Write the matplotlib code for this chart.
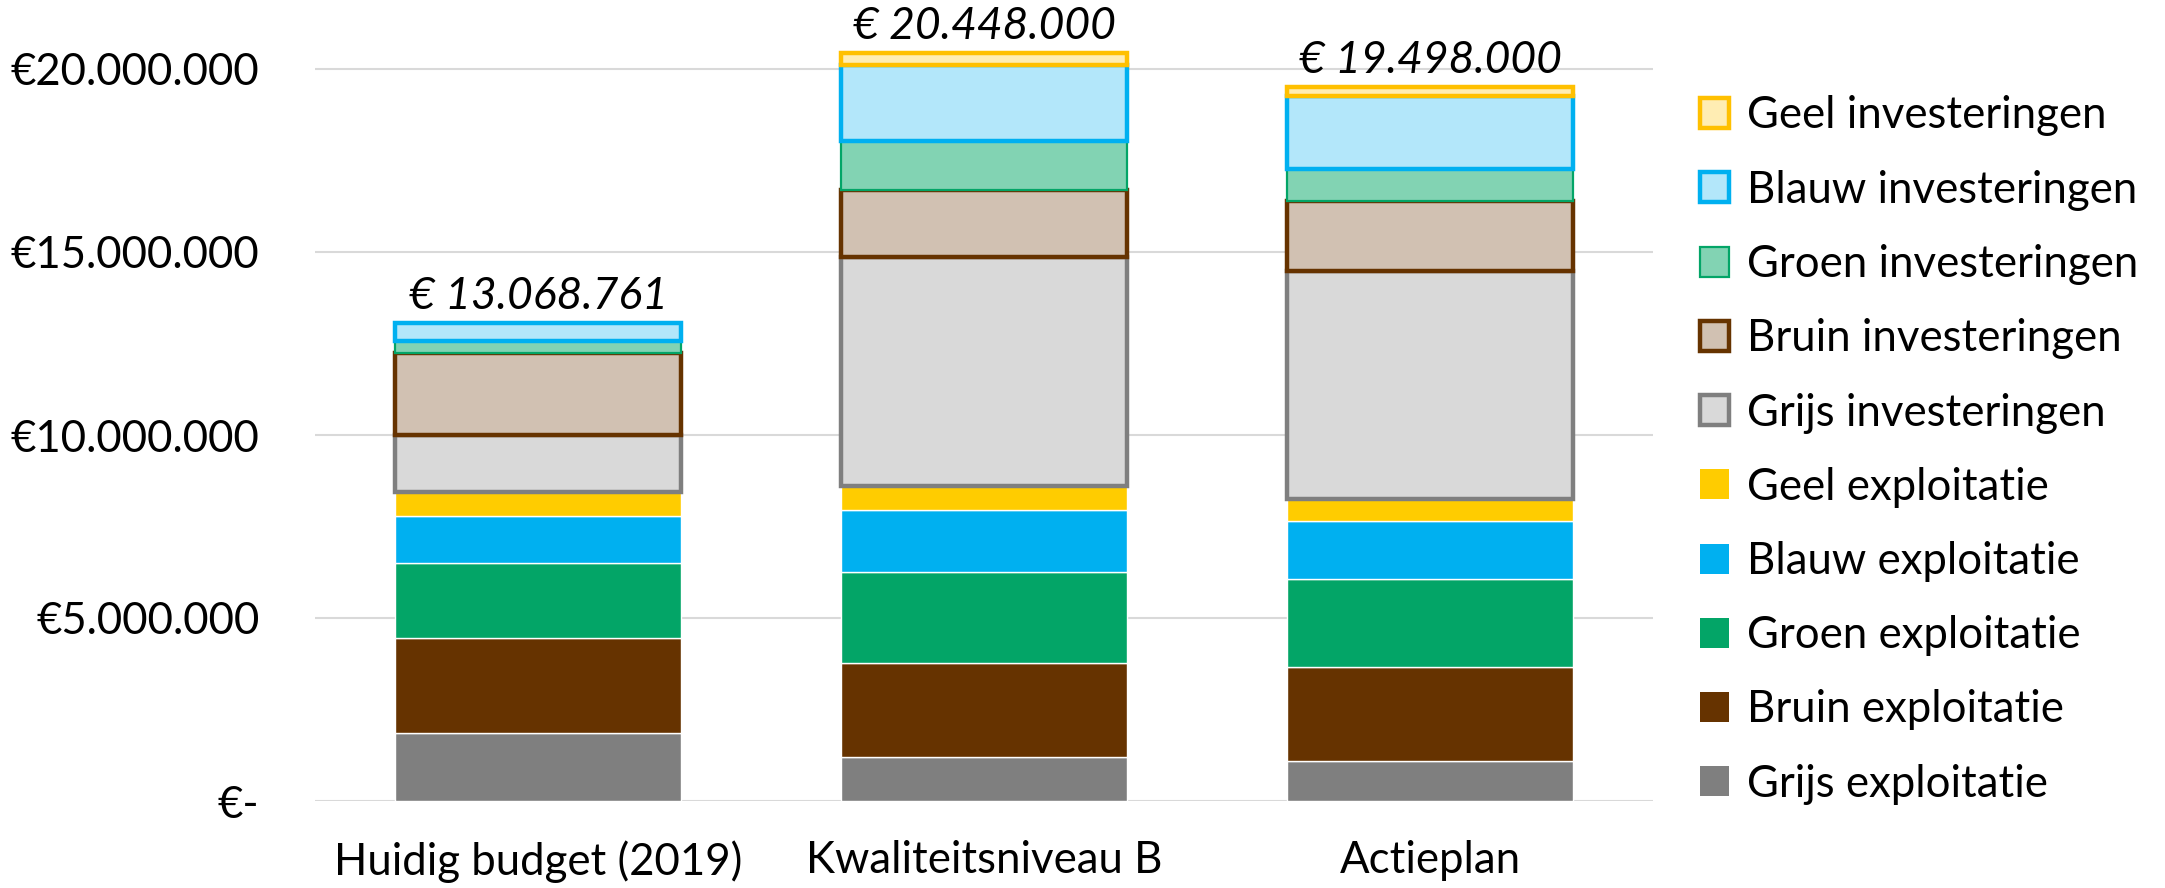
import numpy as np
import matplotlib
matplotlib.use("Agg")
import matplotlib.pyplot as plt
from matplotlib.patches import Patch
from matplotlib.ticker import FuncFormatter

plt.rcParams['font.family'] = ['Lato', 'DejaVu Sans']

categories = ['Huidig budget (2019)', 'Kwaliteitsniveau B', 'Actieplan']

# exploitatie (solid) series, in millions
grijs_expl = [1.87, 1.19, 1.09]
bruin_expl = [2.58, 2.57, 2.57]
groen_expl = [2.06, 2.50, 2.41]
blauw_expl = [1.28, 1.70, 1.59]
geel_expl = [0.65, 0.66, 0.60]

# investeringen (outlined) series, in millions
grijs_inv = [1.57, 6.25, 6.21]
bruin_inv = [2.24, 1.83, 1.92]
groen_inv = [0.31, 1.33, 0.87]
blauw_inv = [0.509, 2.08, 2.00]
geel_inv = [0.0, 0.338, 0.242]

totals = [13068761, 20448000, 19498000]
total_labels = ['€ 13.068.761', '€ 20.448.000', '€ 19.498.000']

series = [
    ('Grijs exploitatie', grijs_expl, '#7F7F7F', 'white', 1.0),
    ('Bruin exploitatie', bruin_expl, '#663300', 'white', 1.0),
    ('Groen exploitatie', groen_expl, '#03A567', 'white', 1.0),
    ('Blauw exploitatie', blauw_expl, '#00B0F0', 'white', 1.0),
    ('Geel exploitatie', geel_expl, '#FFCC00', 'white', 1.0),
    ('Grijs investeringen', grijs_inv, '#D9D9D9', '#7F7F7F', 3.2),
    ('Bruin investeringen', bruin_inv, '#D1C1B2', '#663300', 3.2),
    ('Groen investeringen', groen_inv, '#82D3B3', '#03A567', 1.6),
    ('Blauw investeringen', blauw_inv, '#B3E7FA', '#00B0F0', 3.2),
    ('Geel investeringen', geel_inv, '#FFEDB3', '#FFC000', 3.2),
]

fs = 31.5

fig = plt.figure(figsize=(21.65, 8.88), dpi=100)
ax = fig.add_axes([315 / 2165, 87 / 888, (1653 - 315) / 2165, 801 / 888])

x = np.arange(len(categories))
width = 0.64
bottom = np.zeros(len(categories))
handles = []
for name, vals, fc, ec, lw in series:
    v = np.array(vals) * 1e6
    keep = v > 0
    ax.bar(x[keep], v[keep], width, bottom=bottom[keep], color=fc, edgecolor=ec,
           linewidth=lw, zorder=3)
    bottom += v
    handles.append(Patch(facecolor=fc, edgecolor=ec, linewidth=lw if lw > 1 else 0, label=name))

for i, t in enumerate(totals):
    ax.annotate(total_labels[i], (x[i], t), xytext=(0, 19), textcoords='offset points',
                ha='center', va='center', fontsize=32, style='italic')

ax.set_xlim(-0.5, 2.5)
ax.set_ylim(0, 801 / 36.6 * 1e6)
ax.set_yticks([0, 5e6, 10e6, 15e6, 20e6])


def euro(v, pos):
    if v == 0:
        return '€-'
    return '€' + f'{int(v):,}'.replace(',', '.')


ax.yaxis.set_major_formatter(FuncFormatter(euro))
ax.set_xticks(x)
ax.set_xticklabels(categories)
ax.tick_params(axis='both', length=0, labelsize=fs)
ax.tick_params(axis='y', pad=40)
ax.tick_params(axis='x', pad=28)
ax.grid(axis='y', color='#D9D9D9', linewidth=1.5, zorder=0)
ax.set_axisbelow(True)
for s in ax.spines.values():
    s.set_visible(False)

fig.legend(handles=handles[::-1], loc='upper left', bbox_to_anchor=(1682 / 2165, 1 - 78 / 888),
           frameon=False, fontsize=fs, handlelength=0.68, handleheight=0.68,
           handletextpad=0.4, labelspacing=0.76, borderaxespad=0)

fig.savefig('out.png', dpi=100)
